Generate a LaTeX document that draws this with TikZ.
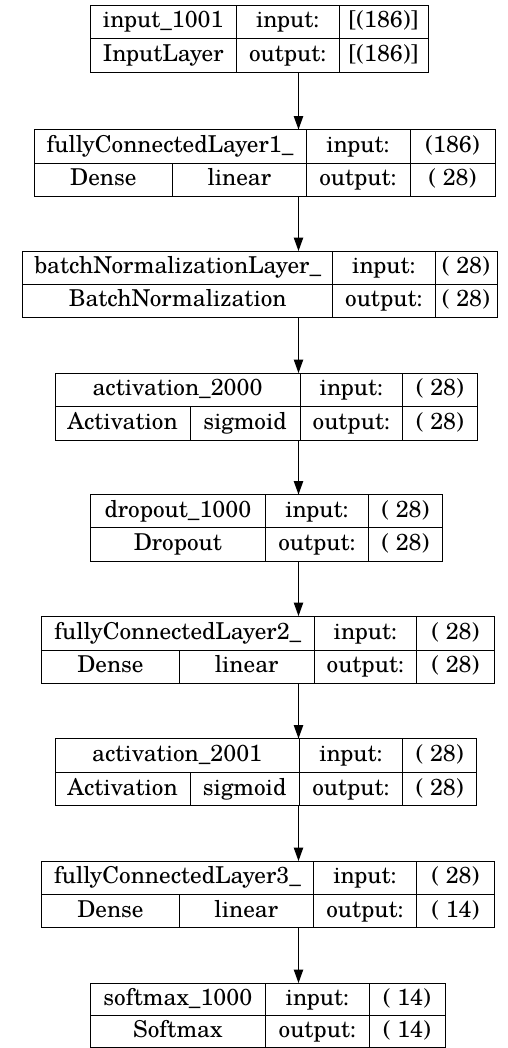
\documentclass[tikz,border=0pt]{standalone}
\usepackage{fontspec}
\setmainfont{TeX Gyre Schola}
\usetikzlibrary{arrows.meta}
\tikzset{
  boxnode/.style={draw=black, line width=1bp, inner sep=0pt, outer sep=0pt, anchor=north west},
  divider/.style={draw=black, line width=1bp},
  celltext/.style={inner sep=0pt, outer sep=0pt, anchor=base, font=\fontsize{23.3}{27}\selectfont},
  flow/.style={draw=black, line width=1bp, -{Triangle[length=13.3bp,width=9.3bp]}}
}
\newcommand\lbox[5]{\node[boxnode, minimum width={(#4-#2)*1bp}, minimum height={(#5-#3)*1bp}] (#1) at (#2,#3) {};}
\newcommand\ctext[4]{\node[celltext] (#1) at (#2,#3+6.2) {#4};}
\begin{document}
\begin{tikzpicture}[x=1bp,y=-1bp]
\useasboundingbox (0,0) rectangle (508,1048);
\coordinate (ax) at (298.5,0);

% Box 1
\lbox{b1}{90}{5}{428}{72}
\draw[divider] (90,38.5) -- (428,38.5);
\draw[divider] (236.5,5) -- (236.5,72);
\draw[divider] (339,5) -- (339,72);
\ctext{t11}{163.25}{21.75}{input\_1001}
\ctext{t12}{287.75}{21.75}{input:}
\ctext{t13}{383.5}{21.75}{[(186)]}
\ctext{t14}{163.25}{55.25}{InputLayer}
\ctext{t15}{287.75}{55.25}{output:}
\ctext{t16}{383.5}{55.25}{[(186)]}

% Box 2
\lbox{b2}{34}{129.5}{495}{196}
\draw[divider] (34,163) -- (495,163);
\draw[divider] (306,129.5) -- (306,196);
\draw[divider] (410,129.5) -- (410,196);
\draw[divider] (172.7,163) -- (172.7,196);
\ctext{t21}{170}{146.25}{fullyConnectedLayer1\_}
\ctext{t22}{358}{146.25}{input:}
\ctext{t23}{452.5}{146.25}{(186)}
\ctext{t24}{103.35}{179.5}{Dense}
\ctext{t25}{239.35}{179.5}{linear}
\ctext{t26}{358}{179.5}{output:}
\ctext{t27}{452.5}{179.5}{( 28)}

% Box 3
\lbox{b3}{22.7}{251}{497}{317}
\draw[divider] (22.7,284) -- (497,284);
\draw[divider] (332.7,251) -- (332.7,317);
\draw[divider] (435,251) -- (435,317);
\ctext{t31}{177.7}{267.5}{batchNormalizationLayer\_}
\ctext{t32}{383.85}{267.5}{input:}
\ctext{t33}{466}{267.5}{( 28)}
\ctext{t34}{177.7}{300.5}{BatchNormalization}
\ctext{t35}{383.85}{300.5}{output:}
\ctext{t36}{466}{300.5}{( 28)}

% Box 4
\lbox{b4}{55}{373}{477.3}{440}
\draw[divider] (55,406) -- (477.3,406);
\draw[divider] (300,373) -- (300,440);
\draw[divider] (402.7,373) -- (402.7,440);
\draw[divider] (190,406) -- (190,440);
\ctext{t41}{177.5}{389.5}{activation\_2000}
\ctext{t42}{351.35}{389.5}{input:}
\ctext{t43}{440}{389.5}{( 28)}
\ctext{t44}{122.5}{423}{Activation}
\ctext{t45}{245}{423}{sigmoid}
\ctext{t46}{351.35}{423}{output:}
\ctext{t47}{440}{423}{( 28)}

% Box 5
\lbox{b5}{90}{494.5}{442.7}{561}
\draw[divider] (90,527.7) -- (442.7,527.7);
\draw[divider] (265.7,494.5) -- (265.7,561);
\draw[divider] (368.3,494.5) -- (368.3,561);
\ctext{t51}{177.85}{511.1}{dropout\_1000}
\ctext{t52}{317}{511.1}{input:}
\ctext{t53}{405.5}{511.1}{( 28)}
\ctext{t54}{177.85}{544.35}{Dropout}
\ctext{t55}{317}{544.35}{output:}
\ctext{t56}{405.5}{544.35}{( 28)}

% Box 6
\lbox{b6}{41.7}{616}{494.3}{683.3}
\draw[divider] (41.7,650) -- (494.3,650);
\draw[divider] (314,616) -- (314,683.3);
\draw[divider] (416.7,616) -- (416.7,683.3);
\draw[divider] (179.3,650) -- (179.3,683.3);
\ctext{t61}{177.85}{633}{fullyConnectedLayer2\_}
\ctext{t62}{365.35}{633}{input:}
\ctext{t63}{455.5}{633}{( 28)}
\ctext{t64}{110.5}{666.65}{Dense}
\ctext{t65}{246.65}{666.65}{linear}
\ctext{t66}{365.35}{666.65}{output:}
\ctext{t67}{455.5}{666.65}{( 28)}

% Box 7
\lbox{b7}{55}{738.5}{476.7}{805.7}
\draw[divider] (55,772.3) -- (476.7,772.3);
\draw[divider] (299.3,738.5) -- (299.3,805.7);
\draw[divider] (402.7,738.5) -- (402.7,805.7);
\draw[divider] (190,772.3) -- (190,805.7);
\ctext{t71}{177.15}{755.4}{activation\_2001}
\ctext{t72}{351}{755.4}{input:}
\ctext{t73}{439.7}{755.4}{( 28)}
\ctext{t74}{122.5}{789}{Activation}
\ctext{t75}{244.65}{789}{sigmoid}
\ctext{t76}{351}{789}{output:}
\ctext{t77}{439.7}{789}{( 28)}

% Box 8
\lbox{b8}{41.7}{861}{494.3}{927.7}
\draw[divider] (41.7,894.3) -- (494.3,894.3);
\draw[divider] (313.3,861) -- (313.3,927.7);
\draw[divider] (416.7,861) -- (416.7,927.7);
\draw[divider] (179.3,894.3) -- (179.3,927.7);
\ctext{t81}{177.5}{877.65}{fullyConnectedLayer3\_}
\ctext{t82}{365}{877.65}{input:}
\ctext{t83}{455.5}{877.65}{( 28)}
\ctext{t84}{110.5}{911}{Dense}
\ctext{t85}{246.3}{911}{linear}
\ctext{t86}{365}{911}{output:}
\ctext{t87}{455.5}{911}{( 14)}

% Box 9
\lbox{b9}{90}{983}{445}{1047}
\draw[divider] (90,1015.5) -- (445,1015.5);
\draw[divider] (265.7,983) -- (265.7,1047);
\draw[divider] (369,983) -- (369,1047);
\ctext{t91}{177.85}{999.25}{softmax\_1000}
\ctext{t92}{317.35}{999.25}{input:}
\ctext{t93}{407}{999.25}{( 14)}
\ctext{t94}{177.85}{1031.25}{Softmax}
\ctext{t95}{317.35}{1031.25}{output:}
\ctext{t96}{407}{1031.25}{( 14)}

% Connectors
\draw[flow] (b1.south -| ax) -- (b2.north -| ax);
\draw[flow] (b2.south -| ax) -- (b3.north -| ax);
\draw[flow] (b3.south -| ax) -- (b4.north -| ax);
\draw[flow] (b4.south -| ax) -- (b5.north -| ax);
\draw[flow] (b5.south -| ax) -- (b6.north -| ax);
\draw[flow] (b6.south -| ax) -- (b7.north -| ax);
\draw[flow] (b7.south -| ax) -- (b8.north -| ax);
\draw[flow] (b8.south -| ax) -- (b9.north -| ax);
\end{tikzpicture}
\end{document}
